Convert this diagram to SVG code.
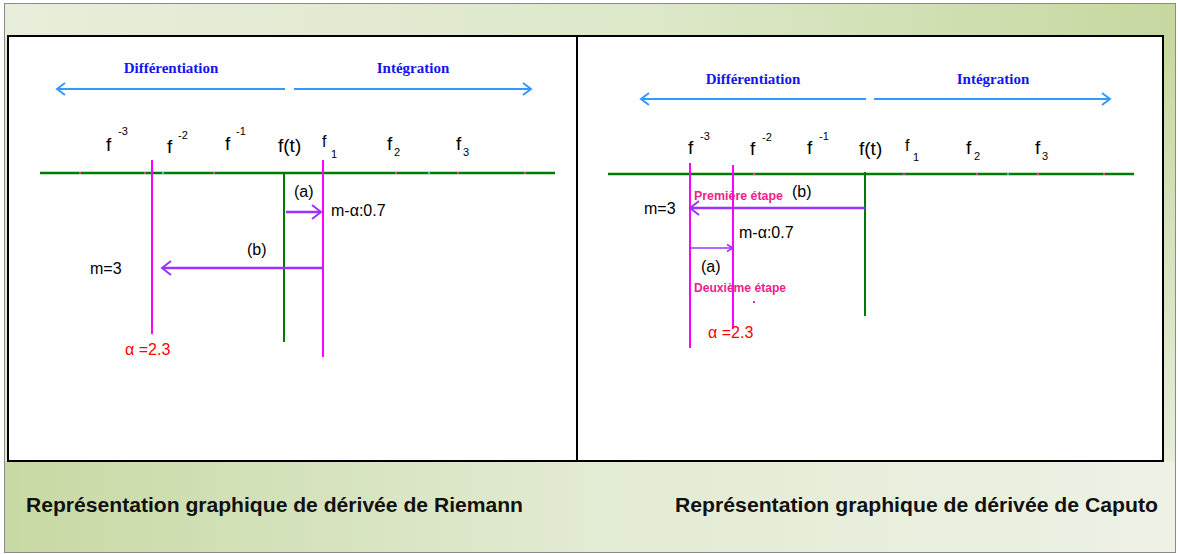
<svg xmlns="http://www.w3.org/2000/svg" width="1178" height="554" viewBox="0 0 1178 554">
<defs>
  <linearGradient id="gHead" x1="0" y1="0" x2="1" y2="0">
    <stop offset="0" stop-color="#e7eedb"/>
    <stop offset="0.55" stop-color="#dde8c9"/>
    <stop offset="1" stop-color="#c6d8a0"/>
  </linearGradient>
  <linearGradient id="gFoot" x1="0" y1="0" x2="1" y2="0">
    <stop offset="0" stop-color="#c7d9a3"/>
    <stop offset="0.5" stop-color="#e2ebd3"/>
    <stop offset="1" stop-color="#edf2e5"/>
  </linearGradient>
  <linearGradient id="gSide" x1="0" y1="0" x2="0" y2="1">
    <stop offset="0" stop-color="#c6d8a0"/>
    <stop offset="1" stop-color="#e6edd8"/>
  </linearGradient>
  <marker id="hBlue" markerUnits="userSpaceOnUse" markerWidth="14" markerHeight="14" refX="10" refY="7" orient="auto">
    <path d="M2,1 L10,7 L2,13" fill="none" stroke="#3399ff" stroke-width="2"/>
  </marker>
  <marker id="hPurple" markerUnits="userSpaceOnUse" markerWidth="16" markerHeight="16" refX="12" refY="8" orient="auto">
    <path d="M3,1 L12,8 L3,15" fill="none" stroke="#9933ff" stroke-width="2"/>
  </marker>
  <marker id="hPurpleS" markerUnits="userSpaceOnUse" markerWidth="10" markerHeight="10" refX="8" refY="5" orient="auto">
    <path d="M2,1.5 L8,5 L2,8.5" fill="none" stroke="#9933ff" stroke-width="1.5"/>
  </marker>
  <style>
    .blue{font-family:"Liberation Serif",serif;font-weight:bold;font-size:15px;fill:#1414f0;text-anchor:middle}
    .lbl{font-family:"Liberation Sans",Arial,sans-serif;font-size:19px;fill:#000}
    .sup{font-family:"Liberation Sans",Arial,sans-serif;font-size:11px;fill:#000}
    .txt{font-family:"Liberation Sans",Arial,sans-serif;font-size:16px;fill:#000}
    .red{font-family:"Liberation Sans",Arial,sans-serif;font-size:16px;fill:#ff0000}
    .pink{font-family:"Liberation Sans",Arial,sans-serif;font-weight:bold;font-size:13px;fill:#f0208c}
    .foot{font-family:"Liberation Sans",Arial,sans-serif;font-weight:bold;font-size:21px;fill:#111}
    .axis{stroke:#007a00;stroke-width:2.5;fill:none}
    .vgreen{stroke:#007a00;stroke-width:2;fill:none}
    .mag{stroke:#ff00ff;stroke-width:2;fill:none}
    .barrow{stroke:#3399ff;stroke-width:2;fill:none;marker-end:url(#hBlue)}
    .parrow{stroke:#9933ff;stroke-width:2.5;fill:none;marker-end:url(#hPurple)}
    .parrowS{stroke:#9933ff;stroke-width:1.5;fill:none;marker-end:url(#hPurpleS)}
    .tick{stroke-width:2;fill:none}
  </style>
</defs>

<g id="frame">
  <rect x="4.5" y="3.5" width="1171" height="549" fill="#e2ebd3" stroke="#8a8a8a" stroke-width="1"/>
  <rect x="5" y="4" width="1170" height="32" fill="url(#gHead)"/>
  <rect x="5" y="461" width="1170" height="91" fill="url(#gFoot)"/>
  <rect x="1163" y="36" width="12" height="425" fill="url(#gSide)"/>
  <rect x="8" y="36" width="1155" height="425" fill="#ffffff" stroke="#000" stroke-width="2"/>
  <line x1="577" y1="36" x2="577" y2="461" stroke="#000" stroke-width="2"/>
</g>

<g id="left-panel">
  <text class="blue" x="171" y="73">Différentiation</text>
  <text class="blue" x="413" y="73">Intégration</text>
  <text class="lbl" x="106" y="151">f</text><text class="sup" x="118" y="135">-3</text>
  <text class="lbl" x="167" y="153">f</text><text class="sup" x="178" y="139">-2</text>
  <text class="lbl" x="225" y="150">f</text><text class="sup" x="236" y="135">-1</text>
  <text class="lbl" x="278" y="152">f(t)</text>
  <text class="txt" x="322" y="147" font-size="14">f</text><text class="sup" x="331" y="158">1</text>
  <text class="lbl" x="387" y="150">f</text><text class="sup" x="394" y="156">2</text>
  <text class="lbl" x="456" y="150">f</text><text class="sup" x="463" y="156">3</text>
  <line class="axis" x1="40" y1="173" x2="555" y2="173"/>
  <g class="tick">
    <line x1="79" y1="173" x2="81" y2="173" stroke="#ff3399"/>
    <line x1="144" y1="173" x2="146" y2="173" stroke="#ff3399"/>
    <line x1="162" y1="173" x2="164" y2="173" stroke="#33cccc"/>
    <line x1="213" y1="173" x2="215" y2="173" stroke="#ff3399"/>
    <line x1="395" y1="173" x2="397" y2="173" stroke="#ff3399"/>
    <line x1="428" y1="173" x2="430" y2="173" stroke="#33cccc"/>
    <line x1="457" y1="173" x2="459" y2="173" stroke="#ff3399"/>
    <line x1="524" y1="173" x2="526" y2="173" stroke="#ff3399"/>
  </g>
  <line class="mag" x1="152" y1="160" x2="152" y2="334"/>
  <line class="vgreen" x1="284" y1="172" x2="284" y2="342"/>
  <line class="mag" x1="323" y1="160" x2="323" y2="357"/>
  <text class="txt" x="294" y="197">(a)</text>
  <text class="txt" x="331" y="216">m-α:0.7</text>
  <text class="txt" x="247" y="255">(b)</text>
  <text class="txt" x="90" y="274">m=3</text>
  <text class="red" x="125" y="355">α =2.3</text>
</g>

<g id="right-panel">
  <text class="blue" x="753" y="84">Différentiation</text>
  <text class="blue" x="993" y="84">Intégration</text>
  <text class="lbl" x="688" y="154">f</text><text class="sup" x="700" y="140">-3</text>
  <text class="lbl" x="750" y="155">f</text><text class="sup" x="762" y="141">-2</text>
  <text class="lbl" x="807" y="154">f</text><text class="sup" x="819" y="140">-1</text>
  <text class="lbl" x="859" y="155">f(t)</text>
  <text class="txt" x="905" y="151" font-size="14">f</text><text class="sup" x="913" y="161">1</text>
  <text class="lbl" x="966" y="154">f</text><text class="sup" x="974" y="160">2</text>
  <text class="lbl" x="1035" y="154">f</text><text class="sup" x="1042" y="160">3</text>
  <line class="axis" x1="608" y1="174" x2="1134" y2="174"/>
  <g class="tick">
    <line x1="753" y1="174" x2="755" y2="174" stroke="#ff3399"/>
    <line x1="903" y1="174" x2="905" y2="174" stroke="#cc33cc"/>
    <line x1="976" y1="174" x2="978" y2="174" stroke="#ff3399"/>
    <line x1="1007" y1="174" x2="1009" y2="174" stroke="#33cccc"/>
    <line x1="1037" y1="174" x2="1039" y2="174" stroke="#ff3399"/>
    <line x1="1103" y1="174" x2="1105" y2="174" stroke="#ff3399"/>
  </g>
  <line class="mag" x1="690" y1="163" x2="690" y2="348"/>
  <line class="mag" x1="733" y1="165" x2="733" y2="328"/>
  <line class="vgreen" x1="865" y1="172" x2="865" y2="316"/>
  <rect x="753" y="301" width="2" height="2" fill="#cc33cc"/>
  <text class="pink" x="694" y="200" textLength="89" lengthAdjust="spacingAndGlyphs">Première étape</text>
  <text class="txt" x="792" y="197">(b)</text>
  <text class="txt" x="644" y="214">m=3</text>
  <text class="txt" x="739" y="238">m-α:0.7</text>
  <text class="txt" x="701" y="272">(a)</text>
  <text class="pink" x="694" y="292" textLength="92" lengthAdjust="spacingAndGlyphs">Deuxième étape</text>
  <text class="red" x="708" y="338">α =2.3</text>
</g>

<g id="connectors">
  <line class="barrow" x1="285" y1="89" x2="57" y2="89"/>
  <line class="barrow" x1="294" y1="89" x2="531" y2="89"/>
  <line class="barrow" x1="866" y1="99" x2="641" y2="99"/>
  <line class="barrow" x1="874" y1="99" x2="1110" y2="99"/>
  <line class="parrow" x1="286" y1="212" x2="321" y2="212"/>
  <line class="parrow" x1="323" y1="268" x2="162" y2="268" stroke-width="2"/>
  <line class="parrow" x1="865" y1="208" x2="690" y2="208" stroke-width="3"/>
  <line class="parrowS" x1="690" y1="248" x2="733" y2="248"/>
</g>

<g id="captions">
  <text class="foot" x="26" y="512" textLength="497" lengthAdjust="spacingAndGlyphs">Représentation graphique de dérivée de Riemann</text>
  <text class="foot" x="675" y="512" textLength="483" lengthAdjust="spacingAndGlyphs">Représentation graphique de dérivée de Caputo</text>
</g>
</svg>
